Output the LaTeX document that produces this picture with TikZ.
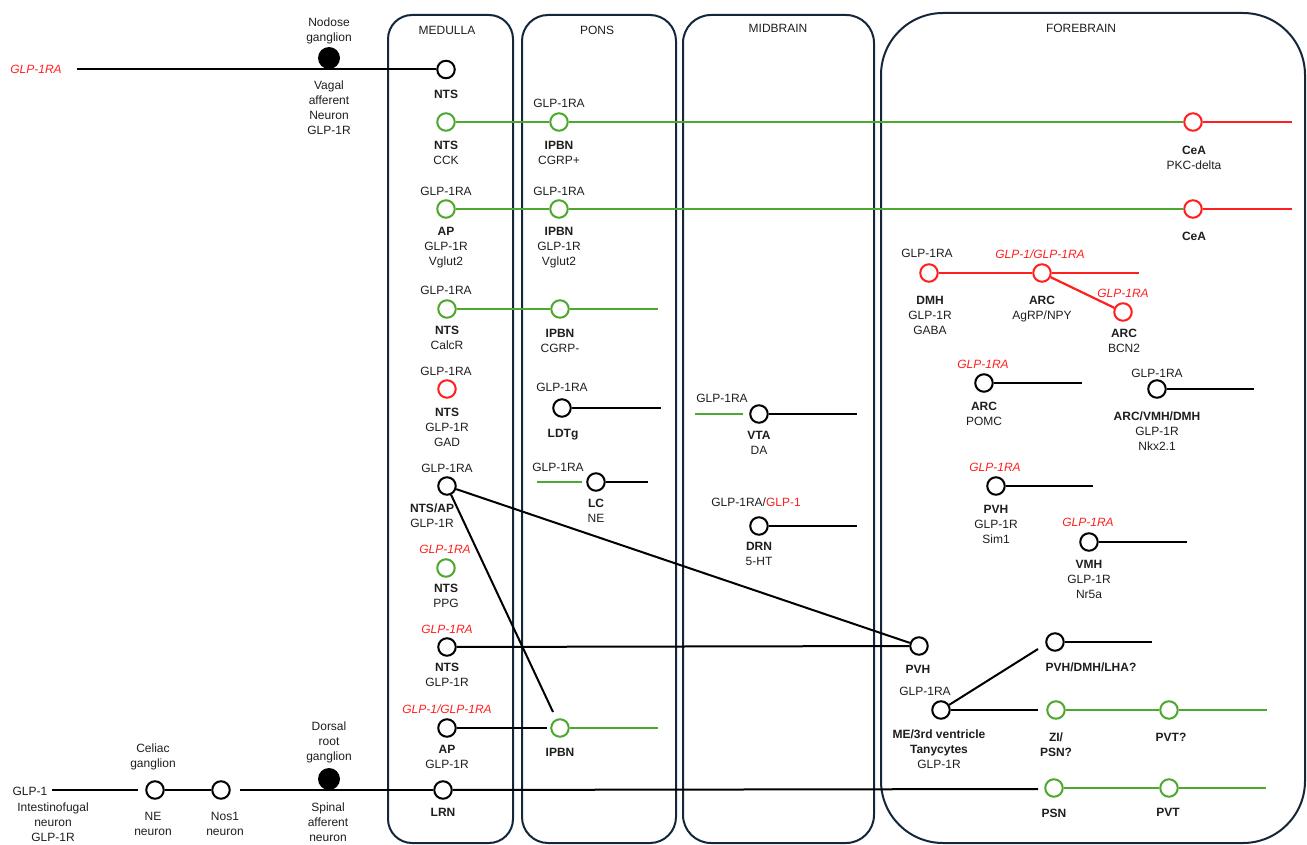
\documentclass[tikz,border=0pt]{standalone}
\usepackage{fontspec}
\setmainfont{Liberation Sans}
\definecolor{grn}{HTML}{4EA72E}
\definecolor{rd}{HTML}{FF1F1F}
\definecolor{boxc}{HTML}{14263A}
\definecolor{txt}{HTML}{1E1E1E}
\tikzset{
  neuron/.style={circle, line width=2pt, minimum size=17.5pt, inner sep=0pt, fill=white},
  bn/.style={neuron, draw=black},
  gn/.style={neuron, draw=grn},
  rn/.style={neuron, draw=rd},
  gang/.style={circle, fill=black, minimum size=22pt, inner sep=0pt},
  lab/.style={font=\fontsize{12}{15}\selectfont, align=center, inner sep=0pt, anchor=north, text=txt},
  rlab/.style={lab, text=rd, font=\fontsize{12}{15}\selectfont\itshape},
  ax/.style={line width=2pt, draw=black},
  gax/.style={line width=2.4pt, draw=grn},
  rax/.style={line width=2.2pt, draw=rd},
  region/.style={draw=boxc, line width=2pt},
}
\begin{document}
\begin{tikzpicture}[x=1pt,y=-1pt]
\useasboundingbox (0,0) rectangle (1307,845);
% regions
\draw[region, rounded corners=24pt] (388,15) rectangle (513,843);
\draw[region, rounded corners=26pt] (522,15) rectangle (676,843);
\draw[region, rounded corners=28pt] (683,15) rectangle (874,843);
\draw[region, rounded corners=62pt] (881,13) rectangle (1305,843);
\node[lab] (hMed) at (447,26.5) {MEDULLA};
\node[lab] (hPons) at (597,25.5) {PONS};
\node[lab] (hMid) at (778,24.5) {MIDBRAIN};
\node[lab] (hFore) at (1081,23.5) {FOREBRAIN};

% ---------- left: vagal ----------
\node[rlab] (tGlpRA) at (36,64.5) {GLP-1RA};
\coordinate (vs) at (77,69.5);
\node[gang] (ng) at (329,58) {};
\node[lab] (tNod) at (329,17.5) {Nodose\\ganglion};
\node[lab] (tVag) at (329,80.5) {Vagal\\afferent\\Neuron\\GLP-1R};

% ---------- medulla ----------
\node[bn] (n1) at (446,69.5) {};
\node[lab] (l1) at (446,89.5) {\textbf{NTS}};
\node[gn] (n2) at (446,122) {};
\node[lab] (l2) at (446,140.5) {\textbf{NTS}\\CCK};
\node[gn] (n3) at (446,209) {};
\node[lab] (t3) at (446,186.5) {GLP-1RA};
\node[lab] (l3) at (446,227.5) {\textbf{AP}\\GLP-1R\\Vglut2};
\node[gn] (n4) at (447,309) {};
\node[lab] (t4) at (446,285.5) {GLP-1RA};
\node[lab] (l4) at (447,325.5) {\textbf{NTS}\\CalcR};
\node[rn] (n5) at (447,389) {};
\node[lab] (t5) at (446,366.5) {GLP-1RA};
\node[lab] (l5) at (447,407.5) {\textbf{NTS}\\GLP-1R\\GAD};
\node[bn] (n6) at (447,486) {};
\node[lab] (t6) at (447,463.5) {GLP-1RA};
\node[lab] (l6) at (432,503.5) {\textbf{NTS/AP}\\GLP-1R};
\node[gn] (n7) at (446,568) {};
\node[rlab] (t7) at (445,544.5) {GLP-1RA};
\node[lab] (l7) at (446,583.5) {\textbf{NTS}\\PPG};
\node[bn] (n8) at (447,647) {};
\node[rlab] (t8) at (447,624.5) {GLP-1RA};
\node[lab] (l8) at (447,662.5) {\textbf{NTS}\\GLP-1R};
\node[bn] (n9) at (447,728) {};
\node[rlab] (t9) at (447,704.5) {GLP-1/GLP-1RA};
\node[lab] (l9) at (447,745.5) {\textbf{AP}\\GLP-1R};
\node[bn] (lrn) at (443,790) {};
\node[lab] (llrn) at (443,808.5) {\textbf{LRN}};

% ---------- pons ----------
\node[gn] (p1) at (559,122) {};
\node[lab] (tp1) at (559,98.5) {GLP-1RA};
\node[lab] (lp1) at (559,141.5) {\textbf{IPBN}\\CGRP+};
\node[gn] (p2) at (559,209) {};
\node[lab] (tp2) at (559,186.5) {GLP-1RA};
\node[lab] (lp2) at (559,227.5) {\textbf{IPBN}\\GLP-1R\\Vglut2};
\node[gn] (p3) at (560,309) {};
\node[lab] (lp3) at (560,329.5) {\textbf{IPBN}\\CGRP-};
\node[bn] (p4) at (562,408) {};
\node[lab] (tp4) at (562,382.5) {GLP-1RA};
\node[lab] (lp4) at (563,429.5) {\textbf{LDTg}};
\node[bn] (p5) at (596,482) {};
\node[lab] (tp5) at (558,462.5) {GLP-1RA};
\node[lab] (lp5) at (596,498.5) {\textbf{LC}\\NE};
\node[gn] (p6) at (560,728) {};
\node[lab] (lp6) at (560,748.5) {\textbf{IPBN}};

% ---------- midbrain ----------
\node[bn] (m1) at (759,414) {};
\node[lab] (tm1) at (722,393.5) {GLP-1RA};
\node[lab] (lm1) at (759,431.5) {\textbf{VTA}\\DA};
\node[bn] (m2) at (759,526) {};
\node[lab] (tm2) at (756,497.5) {GLP-1RA/\textcolor{rd}{GLP-1}};
\node[lab] (lm2) at (759,542.5) {\textbf{DRN}\\5-HT};

% ---------- forebrain ----------
\node[rn] (c1) at (1193,122) {};
\node[lab] (lc1) at (1194,145.5) {\textbf{CeA}\\PKC-delta};
\node[rn] (c2) at (1193,209) {};
\node[lab] (lc2) at (1194,231.5) {\textbf{CeA}};
\node[rn] (d1) at (929,273) {};
\node[lab] (td1) at (927,248.5) {GLP-1RA};
\node[lab] (ld1) at (930,296.5) {\textbf{DMH}\\GLP-1R\\GABA};
\node[rn] (a1) at (1042,273) {};
\node[rlab] (ta1) at (1040,249.5) {GLP-1/GLP-1RA};
\node[lab] (la1) at (1042,295.5) {\textbf{ARC}\\AgRP/NPY};
\node[rn] (a2) at (1123,312) {};
\node[rlab] (ta2) at (1123,288.5) {GLP-1RA};
\node[lab] (la2) at (1124,328.5) {\textbf{ARC}\\BCN2};
\node[bn] (a3) at (984,383) {};
\node[rlab] (ta3) at (983,359.5) {GLP-1RA};
\node[lab] (la3) at (984,401.5) {\textbf{ARC}\\POMC};
\node[bn] (a4) at (1157,389) {};
\node[lab] (ta4) at (1157,368.5) {GLP-1RA};
\node[lab] (la4) at (1157,411.5) {\textbf{ARC/VMH/DMH}\\GLP-1R\\Nkx2.1};
\node[bn] (h1) at (996,486) {};
\node[rlab] (th1) at (995,462.5) {GLP-1RA};
\node[lab] (lh1) at (996,505.5) {\textbf{PVH}\\GLP-1R\\Sim1};
\node[bn] (v1) at (1089,542) {};
\node[rlab] (tv1) at (1088,517.5) {GLP-1RA};
\node[lab] (lv1) at (1089,560.5) {\textbf{VMH}\\GLP-1R\\Nr5a};
\node[bn] (pv2) at (919,646) {};
\node[lab] (lpv2) at (918,665.5) {\textbf{PVH}};
\node[bn] (tan) at (941,710) {};
\node[lab] (ttan) at (925,686.5) {GLP-1RA};
\node[lab] (ltan) at (939,729.5) {\textbf{ME/3rd ventricle}\\\textbf{Tanycytes}\\GLP-1R};
\node[bn] (pdl) at (1055,642) {};
\node[lab] (lpdl) at (1091,662.5) {\textbf{PVH/DMH/LHA?}};
\node[gn] (zi) at (1056,710) {};
\node[lab] (lzi) at (1056,732.5) {\textbf{ZI/}\\\textbf{PSN?}};
\node[gn] (pvq) at (1169,710) {};
\node[lab] (lpvq) at (1171,732.5) {\textbf{PVT?}};
\node[gn] (psn) at (1054,788) {};
\node[lab] (lpsn) at (1054,808.5) {\textbf{PSN}};
\node[gn] (pvt) at (1169,788) {};
\node[lab] (lpvt) at (1168,808.5) {\textbf{PVT}};

% ---------- bottom left ----------
\node[lab] (tGlp1) at (30,786.5) {GLP-1};
\node[lab] (tInt) at (53,802.5) {Intestinofugal\\neuron\\GLP-1R};
\node[bn] (ne) at (155,790) {};
\node[lab] (tCel) at (153,743.5) {Celiac\\ganglion};
\node[lab] (tNE) at (153,812.5) {NE\\neuron};
\node[bn] (nos) at (221,790) {};
\node[lab] (tNos) at (225,812.5) {Nos1\\neuron};
\node[gang] (drg) at (329,779) {};
\node[lab] (tDor) at (329,721.5) {Dorsal\\root\\ganglion};
\node[lab] (tSp) at (328,802.5) {Spinal\\afferent\\neuron};

% ---------- free ends ----------
\coordinate (b0) at (52,790);
\coordinate (b1) at (138,790);
\coordinate (b2) at (240,790);
\coordinate (e1) at (1292,122);
\coordinate (e2) at (1292,209);
\coordinate (e3) at (658,309);
\coordinate (e4) at (661,408);
\coordinate (g5a) at (537,482);
\coordinate (g5b) at (582,482);
\coordinate (e5) at (648,482);
\coordinate (gm1a) at (695,414);
\coordinate (gm1b) at (743,414);
\coordinate (em1) at (857,414);
\coordinate (em2) at (857,526);
\coordinate (ip6) at (553,712);
\coordinate (e9) at (547,728);
\coordinate (e6) at (658,728);
\coordinate (elrn) at (1038,789);
\coordinate (epvt) at (1266,788);
\coordinate (ea1) at (1139,273);
\coordinate (ea3) at (1082,383);
\coordinate (ea4) at (1254,389);
\coordinate (eh1) at (1093,486);
\coordinate (ev1) at (1187,542);
\coordinate (etd) at (1038,649);
\coordinate (eth) at (1038,710);
\coordinate (epvq) at (1267,710);
\coordinate (epdl) at (1152,642);

% ---------- connectors ----------
\draw[ax] (vs) -- (n1);
\draw[gax] (n2) -- (p1);
\draw[gax] (p1) -- (c1);
\draw[rax] (c1) -- (e1);
\draw[gax] (n3) -- (p2);
\draw[gax] (p2) -- (c2);
\draw[rax] (c2) -- (e2);
\draw[gax] (n4) -- (p3);
\draw[gax] (p3) -- (e3);
\draw[ax] (p4) -- (e4);
\draw[gax] (g5a) -- (g5b);
\draw[ax] (p5) -- (e5);
\draw[gax] (gm1a) -- (gm1b);
\draw[ax] (m1) -- (em1);
\draw[ax] (m2) -- (em2);
\draw[ax] (n6) -- (pv2);
\draw[ax] (n6) -- (ip6);
\draw[ax] (n8) -- (pv2);
\draw[ax] (n9) -- (e9);
\draw[gax] (p6) -- (e6);
\draw[ax] (b0) -- (b1);
\draw[ax] (ne) -- (nos);
\draw[ax] (b2) -- (lrn);
\draw[ax] (lrn) -- (elrn);
\draw[gax] (psn) -- (pvt);
\draw[gax] (pvt) -- (epvt);
\draw[rax] (d1) -- (a1);
\draw[rax] (a1) -- (ea1);
\draw[rax] (a1) -- (a2);
\draw[ax] (a3) -- (ea3);
\draw[ax] (a4) -- (ea4);
\draw[ax] (h1) -- (eh1);
\draw[ax] (v1) -- (ev1);
\draw[ax] (tan) -- (etd);
\draw[ax] (tan) -- (eth);
\draw[gax] (zi) -- (pvq);
\draw[gax] (pvq) -- (epvq);
\draw[ax] (pdl) -- (epdl);
\end{tikzpicture}
\end{document}
